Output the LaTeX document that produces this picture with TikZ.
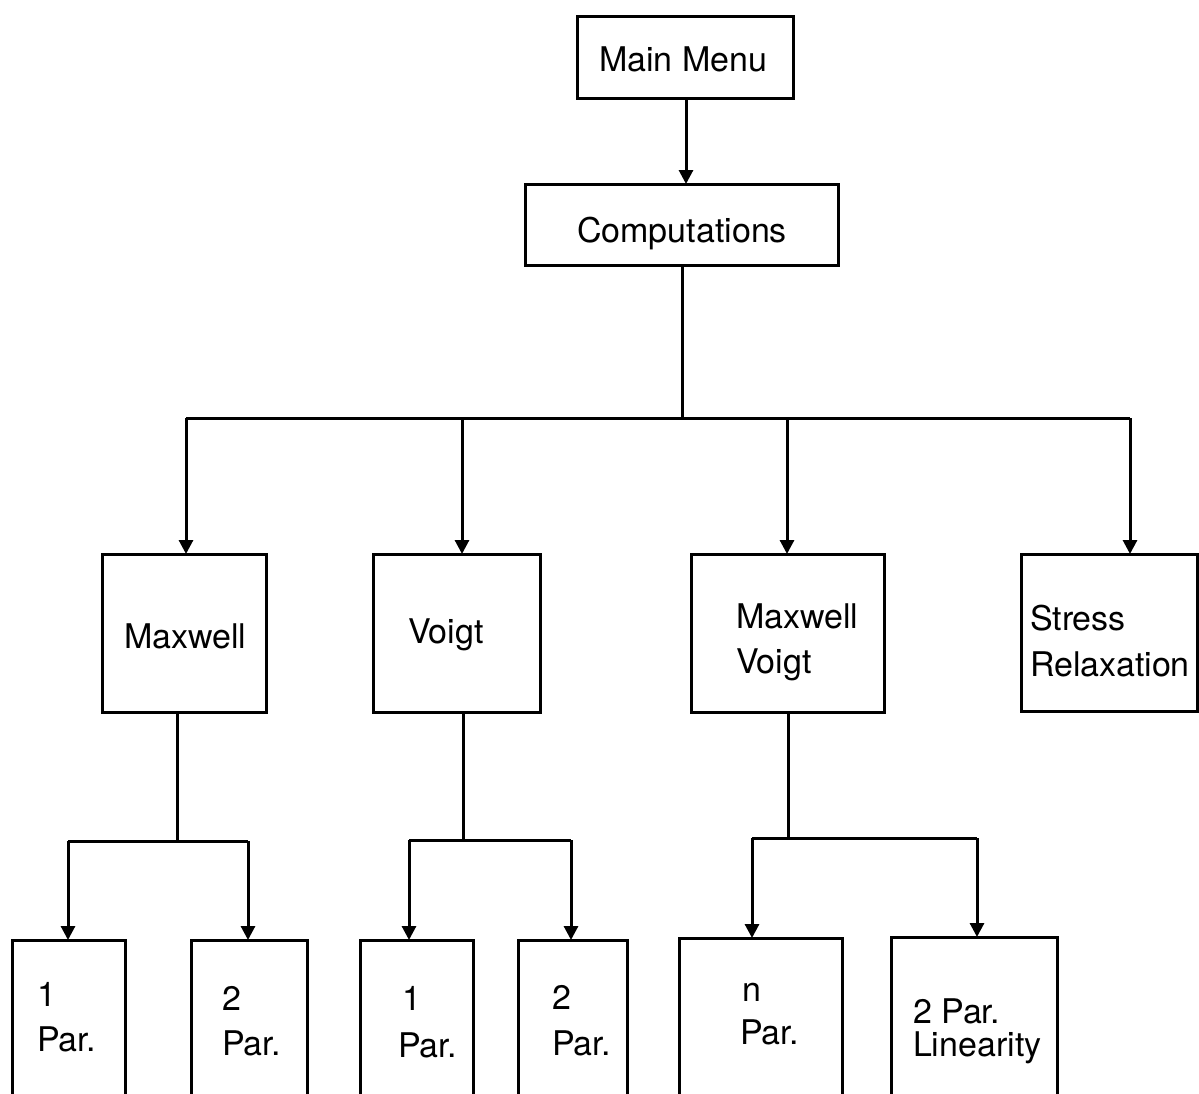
\documentclass[tikz,border=0pt]{standalone}
\usepackage{fontspec}
\setmainfont{TeX Gyre Heros}
\usetikzlibrary{arrows.meta}
\begin{document}
\begin{tikzpicture}[x=0.5pt,y=-0.5pt,
  line width=1.5pt,
  box/.style={draw,line width=1.5pt,inner sep=0pt,outer sep=0pt},
  txt/.style={inner sep=0pt,outer sep=0pt,anchor=base west,font=\fontsize{17}{20}\selectfont},
  arr/.style={-{Triangle[length=7pt,width=7pt]}}]
\clip (0,0) rectangle (1199,1093);
% boxes
\node[box,minimum width=108pt,minimum height=41pt] (main) at (685,57) {};
\node[box,minimum width=156.5pt,minimum height=40.5pt] (comp) at (681.5,224.5) {};
\node[box,minimum width=82pt,minimum height=79pt] (maxwell) at (184,633) {};
\node[box,minimum width=83.5pt,minimum height=79pt] (voigt) at (456.5,633) {};
\node[box,minimum width=96.5pt,minimum height=79pt] (mv) at (787.5,633) {};
\node[box,minimum width=88pt,minimum height=78.5pt] (stress) at (1109,632.5) {};
\node[box,minimum width=56.5pt,minimum height=90pt] (p1) at (68.5,1030) {};
\node[box,minimum width=58pt,minimum height=90pt] (p2) at (249,1030) {};
\node[box,minimum width=56.5pt,minimum height=90pt] (p3) at (416.5,1030) {};
\node[box,minimum width=54.5pt,minimum height=90pt] (p4) at (572.5,1030) {};
\node[box,minimum width=81.5pt,minimum height=91pt] (pn) at (760.5,1029) {};
\node[box,minimum width=83pt,minimum height=91.5pt] (pl) at (974,1028.5) {};
% texts
\node[txt] (tmain) at (599,71) {Main Menu};
\node[txt] (tcomp) at (577,242) {Computations};
\node[txt] (tmax) at (124,648) {Maxwell};
\node[txt] (tvoi) at (408,643) {Voigt};
\node[txt] (tmv1) at (736,628) {Maxwell};
\node[txt] (tmv2) at (736,673) {Voigt};
\node[txt] (tst1) at (1030,630) {Stress};
\node[txt] (tst2) at (1030,676) {Relaxation};
\node[txt] (tp1a) at (37,1006) {1};
\node[txt] (tp1b) at (37,1051) {Par.};
\node[txt] (tp2a) at (222,1010) {2};
\node[txt] (tp2b) at (222,1055) {Par.};
\node[txt] (tp3a) at (402,1010) {1};
\node[txt] (tp3b) at (398,1057) {Par.};
\node[txt] (tp4a) at (552,1009) {2};
\node[txt] (tp4b) at (552,1055) {Par.};
\node[txt] (tpna) at (742,1001) {n};
\node[txt] (tpnb) at (740,1044) {Par.};
\node[txt] (tpla) at (913,1023) {2 Par.};
\node[txt] (tplb) at (913,1056) {Linearity};
% bus coordinates
\coordinate (trunk) at (682,418);
\coordinate (bM) at (186,418);
\coordinate (bV) at (462,418);
\coordinate (bMV) at (787,418);
\coordinate (bS) at (1130,418);
\coordinate (mxs) at (177,841);
\coordinate (mxL) at (68,841);
\coordinate (mxR) at (248,841);
\coordinate (vos) at (463,840);
\coordinate (voL) at (409,840);
\coordinate (voR) at (571,840);
\coordinate (mvs) at (788,838);
\coordinate (mvL) at (752,838);
\coordinate (mvR) at (977,838);
% connectors
\draw[arr] (main.south -| 686,0) -- (comp.north -| 686,0);
\draw (comp.south -| trunk) -- (trunk);
\draw (bM) -- (bS);
\draw[arr] (bM) -- (bM |- maxwell.north);
\draw[arr] (bV) -- (bV |- voigt.north);
\draw[arr] (bMV) -- (bMV |- mv.north);
\draw[arr] (bS) -- (bS |- stress.north);
\draw (mxs |- maxwell.south) -- (mxs);
\draw (mxL) -- (mxR);
\draw[arr] (mxL) -- (mxL |- p1.north);
\draw[arr] (mxR) -- (mxR |- p2.north);
\draw (vos |- voigt.south) -- (vos);
\draw (voL) -- (voR);
\draw[arr] (voL) -- (voL |- p3.north);
\draw[arr] (voR) -- (voR |- p4.north);
\draw (mvs |- mv.south) -- (mvs);
\draw (mvL) -- (mvR);
\draw[arr] (mvL) -- (mvL |- pn.north);
\draw[arr] (mvR) -- (mvR |- pl.north);
\end{tikzpicture}
\end{document}
